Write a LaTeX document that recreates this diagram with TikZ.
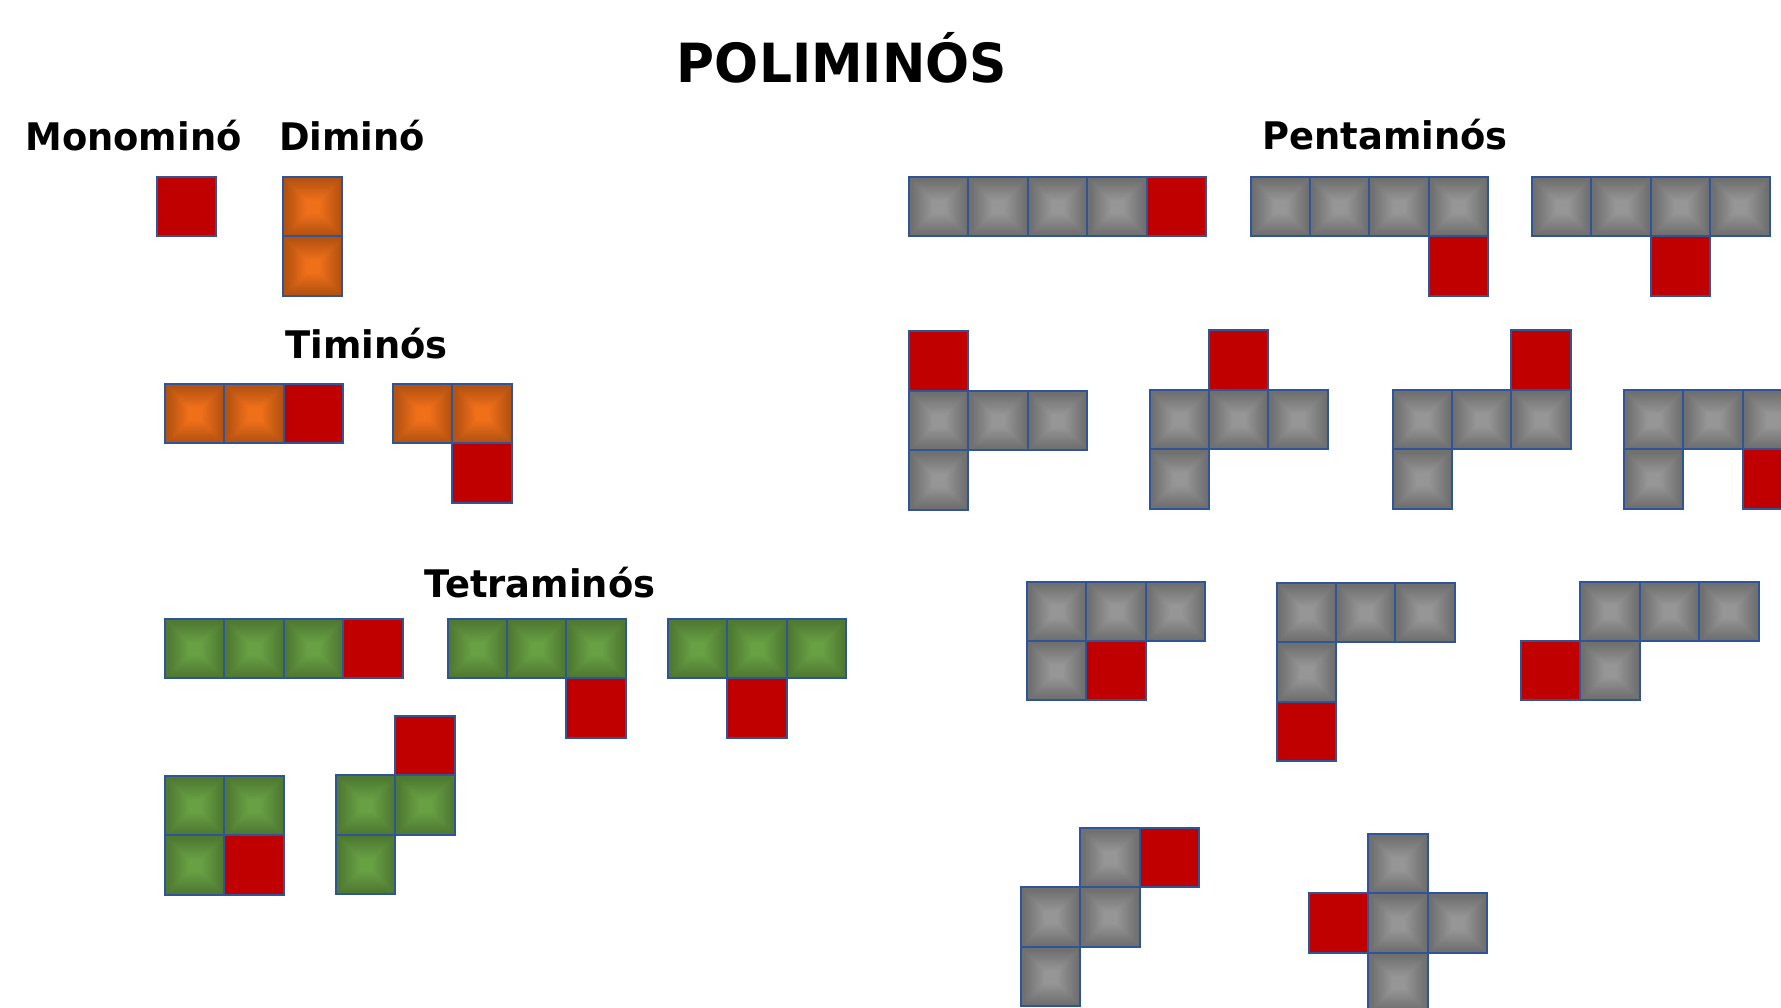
\documentclass[tikz,border=0pt]{standalone}
\usepackage{fontspec}
\setmainfont{DejaVu Sans}
\definecolor{bdr}{HTML}{2F5597}
\definecolor{cred}{HTML}{C00000}
% \mkbev{name}{light rgb}{dark rgb}
\newcommand\mkbev[3]{%
  \pgfdeclareverticalshading{#1V}{100bp}{color(0bp)=(#3); color(27.5bp)=(#3); color(45bp)=(#2); color(55bp)=(#2); color(72.5bp)=(#3); color(100bp)=(#3)}%
  \pgfdeclarehorizontalshading{#1L}{100bp}{color(0bp)=(#3); color(30bp)=(#3); color(65bp)=(#2); color(100bp)=(#2)}%
  \pgfdeclarehorizontalshading{#1R}{100bp}{color(0bp)=(#2); color(35bp)=(#2); color(70bp)=(#3); color(100bp)=(#3)}%
}
\mkbev{bevG}{rgb,255:red,150;green,150;blue,150}{rgb,255:red,112;green,112;blue,112}
\mkbev{bevO}{rgb,255:red,240;green,112;blue,26}{rgb,255:red,182;green,83;blue,17}
\mkbev{bevV}{rgb,255:red,104;green,160;blue,68}{rgb,255:red,79;green,122;blue,50}
\newcommand\bevelfill[1]{%
  \shade[shading=#1V] (path picture bounding box.south west) rectangle (path picture bounding box.north east);
  \shade[shading=#1L] (path picture bounding box.north west) -- (path picture bounding box.south west) -- (path picture bounding box.center) -- cycle;
  \shade[shading=#1R] (path picture bounding box.north east) -- (path picture bounding box.south east) -- (path picture bounding box.center) -- cycle;
}
\tikzset{
  cellbase/.style={rectangle, draw=bdr, line width=2pt, minimum size=59.4pt, inner sep=0pt, outer sep=0pt, anchor=north west},
  gcell/.style={cellbase, path picture={\bevelfill{bevG}}},
  ocell/.style={cellbase, path picture={\bevelfill{bevO}}},
  vcell/.style={cellbase, path picture={\bevelfill{bevV}}},
  rcell/.style={cellbase, fill=cred},
  lbl/.style={anchor=base, inner sep=0pt, font=\fontsize{38}{40}\selectfont\bfseries},
  ttl/.style={anchor=base, inner sep=0pt, font=\fontsize{54}{60}\selectfont\bfseries}
}
% \cellat{style}{name}{x0}{y0}{i}{j}
\newcommand\cellat[6]{\node[#1] (#2) at ({#3+#5*59.4},{#4+#6*59.4}) {};}
\begin{document}
\begin{tikzpicture}[x=1pt,y=-1pt]
\useasboundingbox (0,0) rectangle (1781,1008);
\clip (0,0) rectangle (1781,1008);
% labels
\node[ttl] (title) at (842,83) {\scalebox{0.96}[1]{POLIMINÓS}};
\node[lbl] (lmono) at (133.5,151) {\scalebox{0.97}[1]{Monominó}};
\node[lbl] (ldi) at (352,151) {\scalebox{0.97}[1]{Diminó}};
\node[lbl] (lpenta) at (1385,150) {\scalebox{0.97}[1]{Pentaminós}};
\node[lbl] (ltri) at (366.5,359) {\scalebox{0.97}[1]{Timinós}};
\node[lbl] (ltetra) at (540,597) {\scalebox{0.97}[1]{Tetraminós}};
% monomino
\cellat{rcell}{m1}{157}{177}{0}{0}
% domino
\cellat{ocell}{d1}{283}{177}{0}{0}
\cellat{ocell}{d2}{283}{177}{0}{1}
% triominoes
\cellat{ocell}{ta1}{165}{384}{0}{0}
\cellat{ocell}{ta2}{165}{384}{1}{0}
\cellat{rcell}{ta3}{165}{384}{2}{0}
\cellat{ocell}{tb1}{393}{384}{0}{0}
\cellat{ocell}{tb2}{393}{384}{1}{0}
\cellat{rcell}{tb3}{393}{384}{1}{1}
% tetrominoes
\cellat{vcell}{qa1}{165}{619}{0}{0}
\cellat{vcell}{qa2}{165}{619}{1}{0}
\cellat{vcell}{qa3}{165}{619}{2}{0}
\cellat{rcell}{qa4}{165}{619}{3}{0}
\cellat{vcell}{qb1}{447.5}{619}{0}{0}
\cellat{vcell}{qb2}{447.5}{619}{1}{0}
\cellat{vcell}{qb3}{447.5}{619}{2}{0}
\cellat{rcell}{qb4}{447.5}{619}{2}{1}
\cellat{vcell}{qc1}{668}{619}{0}{0}
\cellat{vcell}{qc2}{668}{619}{1}{0}
\cellat{vcell}{qc3}{668}{619}{2}{0}
\cellat{rcell}{qc4}{668}{619}{1}{1}
\cellat{vcell}{qd1}{165}{776}{0}{0}
\cellat{vcell}{qd2}{165}{776}{1}{0}
\cellat{vcell}{qd3}{165}{776}{0}{1}
\cellat{rcell}{qd4}{165}{776}{1}{1}
\cellat{rcell}{qe1}{336}{716}{1}{0}
\cellat{vcell}{qe2}{336}{716}{0}{1}
\cellat{vcell}{qe3}{336}{716}{1}{1}
\cellat{vcell}{qe4}{336}{716}{0}{2}
% pentominoes
\cellat{gcell}{pa1}{909}{177}{0}{0}
\cellat{gcell}{pa2}{909}{177}{1}{0}
\cellat{gcell}{pa3}{909}{177}{2}{0}
\cellat{gcell}{pa4}{909}{177}{3}{0}
\cellat{rcell}{pa5}{909}{177}{4}{0}
\cellat{gcell}{pb1}{1250.5}{177}{0}{0}
\cellat{gcell}{pb2}{1250.5}{177}{1}{0}
\cellat{gcell}{pb3}{1250.5}{177}{2}{0}
\cellat{gcell}{pb4}{1250.5}{177}{3}{0}
\cellat{rcell}{pb5}{1250.5}{177}{3}{1}
\cellat{gcell}{pc1}{1532}{177}{0}{0}
\cellat{gcell}{pc2}{1532}{177}{1}{0}
\cellat{gcell}{pc3}{1532}{177}{2}{0}
\cellat{gcell}{pc4}{1532}{177}{3}{0}
\cellat{rcell}{pc5}{1532}{177}{2}{1}
\cellat{rcell}{pd1}{909}{331.5}{0}{0}
\cellat{gcell}{pd2}{909}{331.5}{0}{1}
\cellat{gcell}{pd3}{909}{331.5}{1}{1}
\cellat{gcell}{pd4}{909}{331.5}{2}{1}
\cellat{gcell}{pd5}{909}{331.5}{0}{2}
\cellat{rcell}{pe1}{1149.5}{330.5}{1}{0}
\cellat{gcell}{pe2}{1149.5}{330.5}{0}{1}
\cellat{gcell}{pe3}{1149.5}{330.5}{1}{1}
\cellat{gcell}{pe4}{1149.5}{330.5}{2}{1}
\cellat{gcell}{pe5}{1149.5}{330.5}{0}{2}
\cellat{rcell}{pf1}{1392.5}{330.5}{2}{0}
\cellat{gcell}{pf2}{1392.5}{330.5}{0}{1}
\cellat{gcell}{pf3}{1392.5}{330.5}{1}{1}
\cellat{gcell}{pf4}{1392.5}{330.5}{2}{1}
\cellat{gcell}{pf5}{1392.5}{330.5}{0}{2}
\cellat{gcell}{pg1}{1624}{390}{0}{0}
\cellat{gcell}{pg2}{1624}{390}{1}{0}
\cellat{gcell}{pg3}{1624}{390}{2}{0}
\cellat{gcell}{pg4}{1624}{390}{0}{1}
\cellat{rcell}{pg5}{1624}{390}{2}{1}
\cellat{gcell}{ph1}{1027}{581.5}{0}{0}
\cellat{gcell}{ph2}{1027}{581.5}{1}{0}
\cellat{gcell}{ph3}{1027}{581.5}{2}{0}
\cellat{gcell}{ph4}{1027}{581.5}{0}{1}
\cellat{rcell}{ph5}{1027}{581.5}{1}{1}
\cellat{gcell}{pi1}{1276.5}{583}{0}{0}
\cellat{gcell}{pi2}{1276.5}{583}{1}{0}
\cellat{gcell}{pi3}{1276.5}{583}{2}{0}
\cellat{gcell}{pi4}{1276.5}{583}{0}{1}
\cellat{rcell}{pi5}{1276.5}{583}{0}{2}
\cellat{gcell}{pj1}{1521}{581.5}{1}{0}
\cellat{gcell}{pj2}{1521}{581.5}{2}{0}
\cellat{gcell}{pj3}{1521}{581.5}{3}{0}
\cellat{gcell}{pj4}{1521}{581.5}{1}{1}
\cellat{rcell}{pj5}{1521}{581.5}{0}{1}
\cellat{gcell}{pk1}{1021}{828}{1}{0}
\cellat{rcell}{pk2}{1021}{828}{2}{0}
\cellat{gcell}{pk3}{1021}{828}{0}{1}
\cellat{gcell}{pk4}{1021}{828}{1}{1}
\cellat{gcell}{pk5}{1021}{828}{0}{2}
\cellat{gcell}{pl1}{1309}{834}{1}{0}
\cellat{rcell}{pl2}{1309}{834}{0}{1}
\cellat{gcell}{pl3}{1309}{834}{1}{1}
\cellat{gcell}{pl4}{1309}{834}{2}{1}
\cellat{gcell}{pl5}{1309}{834}{1}{2}
\end{tikzpicture}
\end{document}
